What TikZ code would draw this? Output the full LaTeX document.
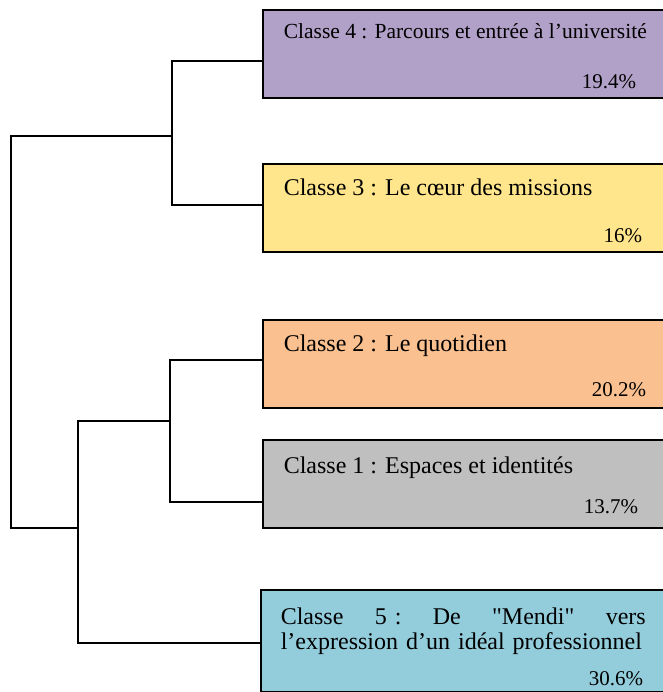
\documentclass[tikz,border=0pt]{standalone}
\usepackage{fontspec}
\setmainfont{Liberation Serif}[Ligatures=TeXOff]
\definecolor{cl4}{HTML}{B1A0C7}
\definecolor{cl3}{HTML}{FFE68C}
\definecolor{cl2}{HTML}{FAC090}
\definecolor{cl1}{HTML}{BFBFBF}
\definecolor{cl5}{HTML}{93CDDC}
\tikzset{
  classbox/.style={draw,line width=2pt,inner sep=0pt,anchor=north west,minimum width=420pt},
  title/.style={anchor=base west,inner sep=0pt,font=\fontsize{24}{25}\selectfont},
  pct/.style={anchor=base east,inner sep=0pt,font=\fontsize{21}{25}\selectfont}
}
\begin{document}
\begin{tikzpicture}[x=1pt,y=-1pt,line width=1.6pt]
\useasboundingbox (0,0) rectangle (662,692);
\foreach \n/\x/\y/\h/\p/\px/\py in {4/262/9/88/19.4/637/89,3/262/163/88/16/643/243,
    2/262/319/88/20.2/647/396,1/262/439/88/13.7/639/513,5/260/589/102/30.6/644/685}{
    \node[classbox,fill=cl\n,minimum height=\h pt] (c\n) at (\x,\y) {};
    \node[pct] (p\n) at (\px,\py) {\p\%};
}
\node[title,font=\fontsize{21.5}{25}\selectfont] (t4) at (283,39) {Classe 4 : Parcours et entrée à l’université};
\node[title] (t3) at (283,196) {Classe 3 : Le cœur des missions};
\node[title] (t2) at (283,351) {Classe 2 : Le quotidien};
\node[title] (t1) at (283,473) {Classe 1 : Espaces et identités};
\node[title,anchor=north west,text width=365pt,align=left] (t5) at (280,607)
    {Classe\hfill 5~:\hfill De\hfill "Mendi"\hfill vers\\l’expression d’un idéal professionnel};
\coordinate (e4) at ([yshift=-7pt]c4.west);
\coordinate (e3) at ([yshift=3pt]c3.west);
\coordinate (e2) at ([yshift=4pt]c2.west);
\coordinate (e1) at ([yshift=-18pt]c1.west);
\coordinate (e5) at ([yshift=-2pt]c5.west);
\coordinate (j43) at (172,136);
\coordinate (j21) at (170,421);
\coordinate (j215) at (78,528);
\coordinate (root) at (11,330);
\draw (e4) -| (j43) |- (e3);
\draw (e2) -| (j21) |- (e1);
\draw (j21) -| (j215) |- (e5);
\draw (j43) -| (root) |- (j215);
\end{tikzpicture}
\end{document}
